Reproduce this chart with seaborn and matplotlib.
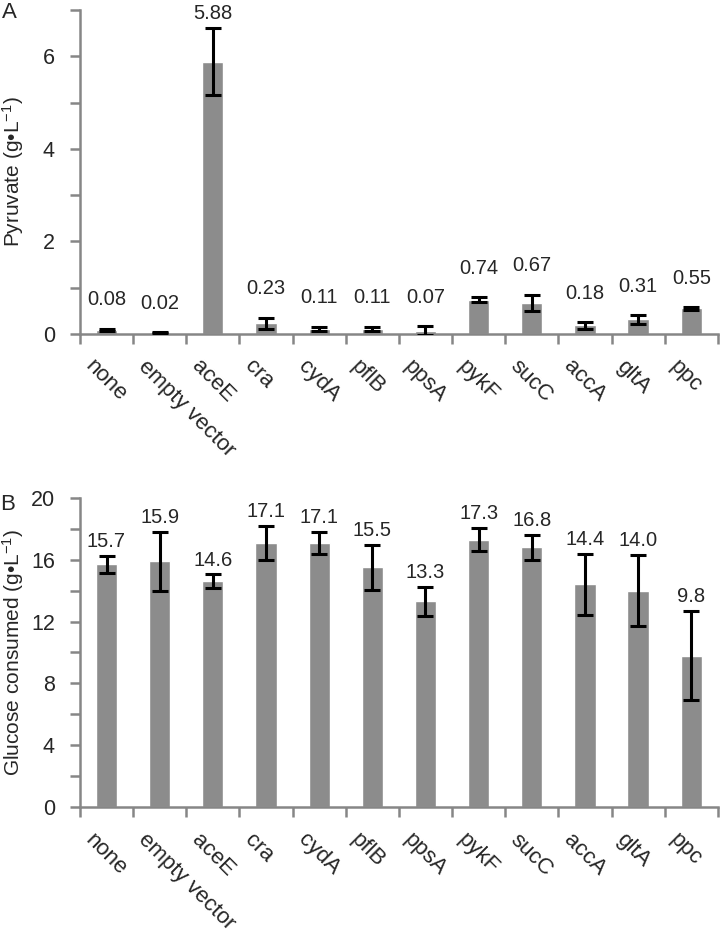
import seaborn as sns
import matplotlib.pyplot as plt
import numpy as np

genes = ["none", "empty vector", "aceE", "cra", "cydA", "pflB", "ppsA",
         "pykF", "sucC", "accA", "gltA", "ppc"]

pyruvate = [0.08, 0.02, 5.88, 0.23, 0.11, 0.11, 0.07, 0.74, 0.67, 0.18, 0.31, 0.55]
pyruvate_err = [0.03, 0.01, 0.72, 0.12, 0.04, 0.04, 0.09, 0.05, 0.17, 0.07, 0.09, 0.03]
pyruvate_labels = ["0.08", "0.02", "5.88", "0.23", "0.11", "0.11", "0.07",
                   "0.74", "0.67", "0.18", "0.31", "0.55"]

glucose = [15.7, 15.9, 14.6, 17.1, 17.1, 15.5, 13.3, 17.3, 16.8, 14.4, 14.0, 9.8]
glucose_err = [0.55, 1.9, 0.45, 1.1, 0.7, 1.45, 0.95, 0.75, 0.8, 1.95, 2.3, 2.9]
glucose_labels = ["15.7", "15.9", "14.6", "17.1", "17.1", "15.5", "13.3",
                  "17.3", "16.8", "14.4", "14.0", "9.8"]

sns.set_style("white")
plt.rcParams['font.family'] = ['Liberation Sans', 'DejaVu Sans']
plt.rcParams['mathtext.fontset'] = 'custom'
plt.rcParams['mathtext.rm'] = 'Liberation Sans'
plt.rcParams['mathtext.it'] = 'Liberation Sans:italic'

BAR = '#8c8c8c'
AXIS = '#868686'


def draw_panel(ax, values, errors, labels, ymax, major, ylabel, near_off, far_off):
    x = np.arange(len(genes))
    sns.barplot(x=genes, y=values, color=BAR, width=0.4, errorbar=None,
                saturation=1, ax=ax)
    ax.errorbar(x, values, yerr=errors, fmt='none', ecolor='black',
                elinewidth=2.2, capsize=5.5, capthick=2.2, zorder=3)

    for xi, v, e, lab in zip(x, values, errors, labels):
        top = v + e
        off = near_off if top > 0.9 * ymax else far_off
        ax.annotate(lab, (xi, top), xytext=(0, off), textcoords='offset points',
                    ha='center', va='bottom', fontsize=14.5)

    ax.set_xlim(-0.5, len(genes) - 0.5)
    ax.set_ylim(0, ymax)
    ax.set_yticks(np.arange(0, ymax + 0.01, major))
    ax.set_yticks(np.arange(major / 2, ymax + 0.01, major), minor=True)
    ax.set_xticks(np.arange(-0.5, len(genes), 1), minor=True)
    # slanted names start a bit left of the bar centre, as in the original
    ax.set_xticks(x - 0.2)
    ax.set_xticklabels(genes, rotation=-45, ha='left', va='top',
                       rotation_mode='anchor', fontsize=16)
    ax.tick_params(axis='x', which='major', length=0, pad=16)
    ax.tick_params(axis='x', which='minor', length=7, width=1.8,
                   color=AXIS, direction='out', bottom=True)
    ax.tick_params(axis='y', which='both', length=7, width=1.8,
                   color=AXIS, direction='out', left=True, labelsize=15.5, pad=11)

    for side in ['top', 'right']:
        ax.spines[side].set_visible(False)
    for side in ['left', 'bottom']:
        ax.spines[side].set_color(AXIS)
        ax.spines[side].set_linewidth(1.8)

    ax.set_ylabel(ylabel, fontsize=15)
    ax.yaxis.set_label_coords(-0.084, 0.5)
    ax.set_xlabel('')


fig = plt.figure(figsize=(7.2, 9.51), dpi=100)
ax_a = fig.add_axes([0.111, 0.649, 0.886, 0.3405])
ax_b = fig.add_axes([0.111, 0.1514, 0.886, 0.325])

draw_panel(ax_a, pyruvate, pyruvate_err, pyruvate_labels, 7, 2,
           r'Pyruvate (g•L$^{\mathrm{-1}}$)', 4, 14)
draw_panel(ax_b, glucose, glucose_err, glucose_labels, 20, 4,
           r'Glucose consumed (g•L$^{\mathrm{-1}}$)', 3.5, 3.5)

fig.text(0.003, 0.998, 'A', ha='left', va='top', fontsize=16)
fig.text(0.0, 1 - 494 / 951, 'B', ha='left', va='top', fontsize=16)

fig.savefig('out.png', dpi=100)
plt.close(fig)
